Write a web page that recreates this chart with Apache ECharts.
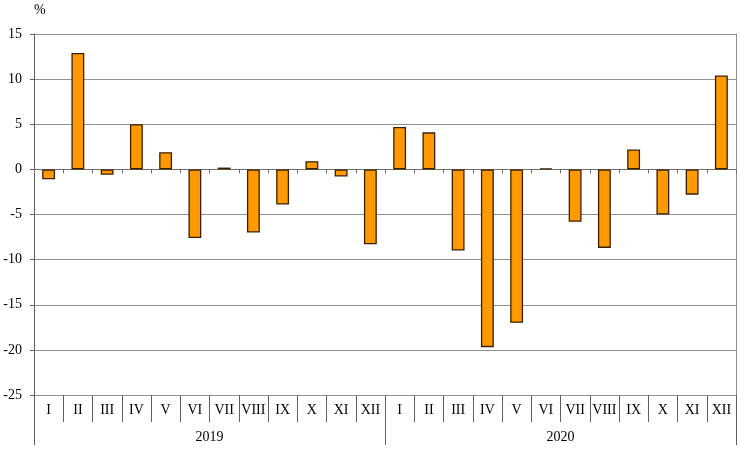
<!DOCTYPE html>
<html><head><meta charset="utf-8">
<script src="https://cdn.jsdelivr.net/npm/echarts@6/dist/echarts.min.js"></script>
<style>html,body{margin:0;padding:0;background:#fff}#c{width:740px;height:452px}</style>
</head><body><div id="c"></div>
<script>
const months = ['I','II','III','IV','V','VI','VII','VIII','IX','X','XI','XII'];
const years = ['2019','2020'];
const values2019 = [-1.1, 12.9, -0.6, 5.0, 1.9, -7.6, 0.2, -7.0, -3.9, 0.9, -0.8, -8.3];
const values2020 = [4.7, 4.1, -9.0, -19.7, -17.0, 0.1, -5.8, -8.7, 2.2, -5.0, -2.8, 10.4];
const yTicks = {min: -25, max: 15, interval: 5};

const cats = [];
years.forEach(y => months.forEach(m => cats.push(y + '-' + m)));
const vals = values2019.concat(values2020);
const font = '"Liberation Serif", "Times New Roman", serif';

const chart = echarts.init(document.getElementById('c'));
chart.setOption({
  animation: false,
  grid: {left: 34, right: 4, top: 34, bottom: 57, containLabel: false},
  xAxis: [
    {type: 'category', data: cats, axisLine: {onZero: true, lineStyle: {color: '#707070', width: 1}},
     axisTick: {show: true, interval: 0, length: 4, lineStyle: {color: '#707070'}}, axisLabel: {show: false}, splitLine: {show: false}},
    {type: 'category', data: cats, position: 'bottom', axisLine: {onZero: false, show: false},
     axisTick: {show: true, interval: 0, length: 27, lineStyle: {color: '#606060'}},
     axisLabel: {interval: 0, margin: 8, color: '#000', fontFamily: font, fontSize: 14, formatter: v => v.split('-')[1]}},
    {type: 'category', data: years, position: 'bottom', axisLine: {onZero: false, show: false},
     axisTick: {show: true, interval: 0, length: 50, lineStyle: {color: '#606060'}},
     axisLabel: {interval: 0, margin: 35, color: '#000', fontFamily: font, fontSize: 14}}
  ],
  yAxis: [
    {type: 'value', min: yTicks.min, max: yTicks.max, interval: yTicks.interval,
     name: '%', nameLocation: 'end', nameGap: 17, nameTextStyle: {color: '#000', fontFamily: font, fontSize: 14, align: 'left', padding: [0,0,0,0]},
     axisLine: {show: true, lineStyle: {color: '#606060'}},
     axisTick: {show: true, length: 4, lineStyle: {color: '#606060'}},
     axisLabel: {color: '#000', fontFamily: font, fontSize: 14, margin: 12},
     splitLine: {show: true, lineStyle: {color: '#909090', width: 1}}},
    {type: 'value', position: 'right', min: yTicks.min, max: yTicks.max, interval: yTicks.interval,
     axisLine: {show: true, lineStyle: {color: '#909090'}}, axisTick: {show: false}, axisLabel: {show: false}, splitLine: {show: false}}
  ],
  series: [{
    type: 'bar', data: vals, xAxisIndex: 0, yAxisIndex: 0, barWidth: '44%',
    itemStyle: {color: '#FF9900', borderColor: '#3a2000', borderWidth: 1.3}
  }]
});
</script></body></html>
